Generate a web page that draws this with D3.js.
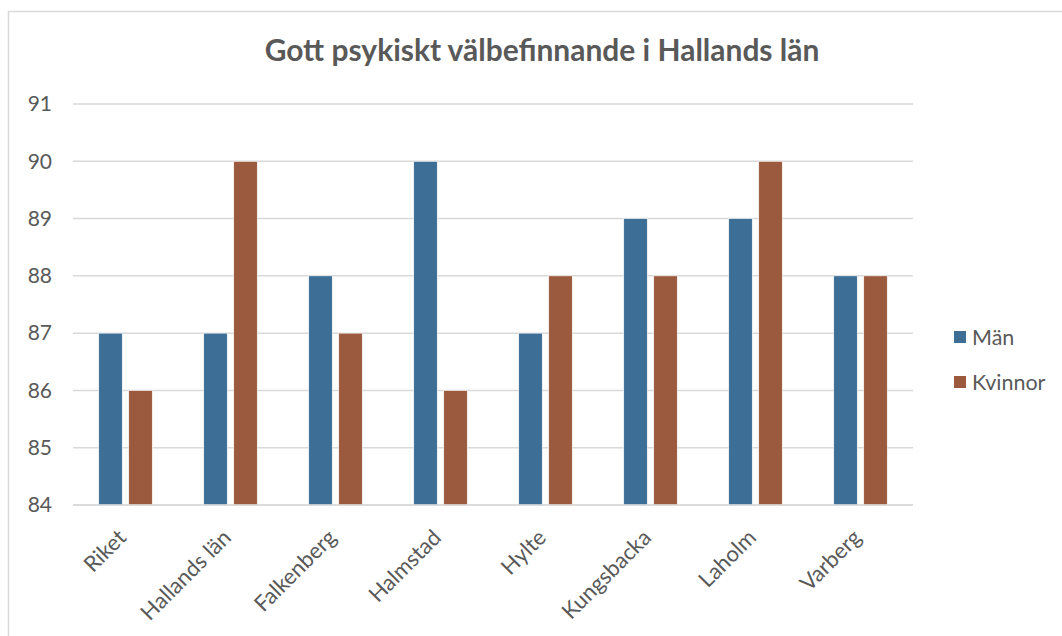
<!DOCTYPE html>
<html><head><meta charset="utf-8">
<script src="https://cdn.jsdelivr.net/npm/d3@7"></script>
<style>body{margin:0;background:#fff}svg{display:block}text{font-family:Lato,"Open Sans",sans-serif;fill:#595959}</style>
</head><body><svg id="c" width="1062" height="636"></svg>
<script>
const categories = ["Riket","Hallands län","Falkenberg","Halmstad","Hylte","Kungsbacka","Laholm","Varberg"];
const seriesNames = ["Män","Kvinnor"];
const man = [87,87,88,90,87,89,89,88];
const kvinnor = [86,90,87,86,88,88,90,88];
const yTicks = [84,85,86,87,88,89,90,91];
const title = "Gott psykiskt välbefinnande i Hallands län";
const colors = ["#3c6e96","#9b5a3d"];

const svg = d3.select("#c");
svg.append("rect").attr("x",8.5).attr("y",11.5).attr("width",1100).attr("height",700)
  .attr("fill","#fff").attr("stroke","#d9d9d9").attr("stroke-width",1.5);

const L=73,R=913,T=104,B=505;
const x = d3.scaleBand().domain(categories).range([L,R]);
const y = d3.scaleLinear().domain([84,91]).range([B,T]);

// gridlines
svg.append("g").selectAll("line").data(yTicks).join("line")
  .attr("x1",L).attr("x2",R).attr("y1",d=>y(d)).attr("y2",d=>y(d))
  .attr("stroke","#d9d9d9").attr("stroke-width",1.5);

// y axis labels
const ya = svg.append("g").attr("transform",`translate(${L-21},0)`)
  .call(d3.axisLeft(y).tickValues(yTicks).tickFormat(d3.format("d")).tickSize(0).tickPadding(0));
ya.select(".domain").remove();
ya.selectAll("text").attr("font-size",21).attr("fill","#595959");

// bars
const bw = 23.5, gap = 6.5;
const data = categories.map((c,i)=>({c, vals:[man[i],kvinnor[i]]}));
const g = svg.append("g");
data.forEach(d=>{
  const cx = x(d.c)+x.bandwidth()/2;
  d.vals.forEach((v,k)=>{
    const x0 = k===0 ? cx-gap/2-bw : cx+gap/2;
    g.append("rect").attr("x",x0).attr("width",bw)
      .attr("y",y(v)).attr("height",y(84)-y(v))
      .attr("fill",colors[k]).attr("stroke","#fff").attr("stroke-width",0.6);
  });
});

// baseline
svg.append("line").attr("x1",L).attr("x2",R).attr("y1",B).attr("y2",B)
  .attr("stroke","#d9d9d9").attr("stroke-width",1.5);

// x labels
const xa = svg.append("g").attr("transform",`translate(0,${B})`)
  .call(d3.axisBottom(x).tickSize(0).tickPadding(0));
xa.select(".domain").remove();
xa.selectAll("text").attr("font-size",22).attr("fill","#595959")
  .attr("text-anchor","end").attr("dy",0).attr("y",0)
  .attr("transform","translate(2,34) rotate(-45)");

// title
const t = svg.append("text").attr("x",542).attr("y",61).attr("text-anchor","middle")
  .attr("font-size",25).attr("font-weight","bold").text(title);
const tw = t.node().getComputedTextLength();
t.attr("font-size",25*555/tw);

// legend
const lg = svg.append("g");
seriesNames.forEach((n,i)=>{
  const yy = 337 + i*45;
  lg.append("rect").attr("x",954).attr("y",yy-6).attr("width",12).attr("height",12).attr("fill",colors[i]);
  lg.append("text").attr("x",972).attr("y",yy+7.5).attr("font-size",21.5).text(n);
});
</script></body></html>
